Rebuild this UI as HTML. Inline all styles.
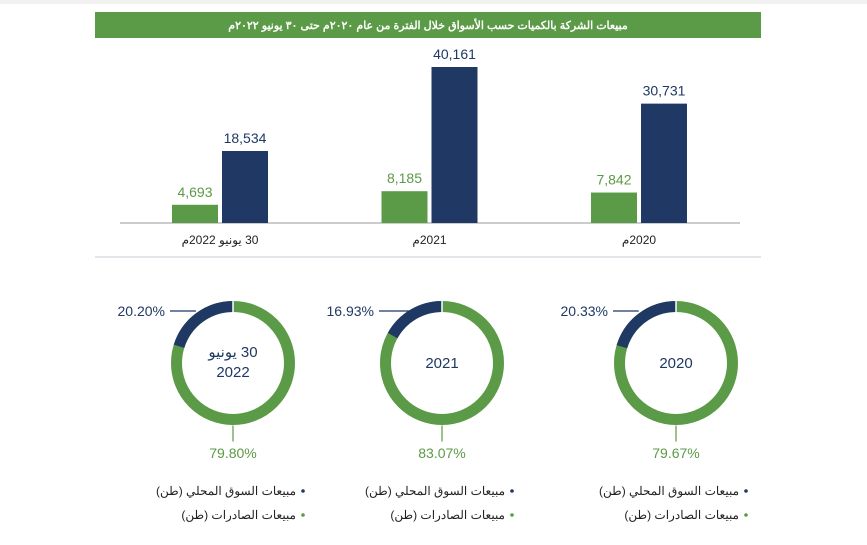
<!DOCTYPE html>
<html><head><meta charset="utf-8"><style>
body{margin:0;background:#fff;width:867px;height:540px;overflow:hidden;font-family:"Liberation Sans","Noto Sans CJK SC",sans-serif}
svg text{font-family:"Liberation Sans","Noto Sans CJK SC",sans-serif}
</style></head><body>
<svg id="c" width="867" height="540">
<rect x="0" y="0" width="867" height="4" fill="#f1f1f1"/>
<rect x="95" y="12" width="666" height="26" fill="#5b9a46"/>
<text x="428" y="29" fill="#fff" font-size="11" font-weight="bold" text-anchor="middle" direction="rtl">مبيعات الشركة بالكميات حسب الأسواق خلال الفترة من عام ٢٠٢٠م حتى ٣٠ يونيو ٢٠٢٢م</text>
<line x1="120" y1="223" x2="740" y2="223" stroke="#9a9a9a" stroke-width="1"/>
<line x1="95" y1="257" x2="761" y2="257" stroke="#d9dde3" stroke-width="1.5"/>
</svg>
<script>
const categories=["30 يونيو 2022م","2021م","2020م"];
const localSales=[4693,8185,7842];
const exportSales=[18534,40161,30731];
const localPct=["20.20%","16.93%","20.33%"];
const exportPct=["79.80%","83.07%","79.67%"];
const localShare=[20.20,16.93,20.33];
const centerLabels=[["30 يونيو","2022"],["2021"],["2020"]];
const NS="http://www.w3.org/2000/svg",svg=document.getElementById('c');
const GREEN="#5b9a46",NAVY="#1f3864";
const base=223,scale=156/40161;
const y=v=>base-v*scale;
const groupX=i=>172+i*209.5;
function mk(t,a,txt){const e=document.createElementNS(NS,t);for(const k in a)e.setAttribute(k,a[k]);if(txt!=null)e.textContent=txt;svg.appendChild(e);return e;}
function fmt(v){return v.toLocaleString('en-US');}
categories.forEach((c,i)=>{
  const gx=groupX(i);
  let e=mk('rect',{x:gx,y:y(localSales[i]),width:46,height:base-y(localSales[i]),fill:GREEN});
  
  
  e=mk('rect',{x:gx+50,y:y(exportSales[i]),width:46,height:base-y(exportSales[i]),fill:NAVY});
  
  
  e=mk('text',{x:gx+23,y:y(localSales[i])-8,fill:GREEN,'font-size':14,'text-anchor':'middle'},fmt(localSales[i]));
  
  
  e=mk('text',{x:gx+73,y:y(exportSales[i])-8,fill:NAVY,'font-size':14,'text-anchor':'middle'},fmt(exportSales[i]));
  
  
  e=mk('text',{x:gx+48,y:244,fill:'#222','font-size':12,'text-anchor':'middle',direction:'rtl'},c);
  
  
  // donut
  const cx=[233,442,676][i],cy=363,R=56.5,C=2*Math.PI*R;
  e=mk('circle',{cx,cy,r:R,fill:'none',stroke:GREEN,'stroke-width':11});
  
  
  const f=localShare[i]/100;
  e=mk('circle',{cx,cy,r:R,fill:'none',stroke:NAVY,'stroke-width':11,'stroke-dasharray':(f*C)+' '+C,transform:`rotate(${-90-f*360} ${cx} ${cy})`});
  
  
  // gap line at top
  mk('line',{x1:cx,y1:cy-R-6,x2:cx,y2:cy-R+6,stroke:'#fff','stroke-width':1.5});
  const a=(-90-f*180)*Math.PI/180;
  const px=cx+Math.cos(a)*(R+6),py=cy+Math.sin(a)*(R+6);
  mk('line',{x1:cx-63,y1:311,x2:px,y2:311,stroke:NAVY,'stroke-width':1.2});
  e=mk('text',{x:cx-68,y:316,fill:NAVY,'font-size':14,'text-anchor':'end'},localPct[i]);
  
  
  mk('line',{x1:cx,y1:cy+R+6,x2:cx,y2:cy+R+22,stroke:GREEN,'stroke-width':1.2});
  e=mk('text',{x:cx,y:458,fill:GREEN,'font-size':14,'text-anchor':'middle'},exportPct[i]);
  
  
  const cl=centerLabels[i];
  cl.forEach((t,j)=>{
    const yy=cl.length==1?368:357+j*20;
    e=mk('text',{x:cx,y:yy,fill:NAVY,'font-size':15,'text-anchor':'middle',direction:'rtl'},t);
    
    
  });
  // legend
  const lx=cx+70;
  mk('circle',{cx:lx,cy:491,r:1.8,fill:NAVY});
  e=mk('text',{x:lx-7,y:495,fill:'#222','font-size':12,'text-anchor':'start',direction:'rtl'},'مبيعات السوق المحلي (طن)');
  
  
  mk('circle',{cx:lx,cy:515,r:1.8,fill:GREEN});
  e=mk('text',{x:lx-7,y:519,fill:'#222','font-size':12,'text-anchor':'start',direction:'rtl'},'مبيعات الصادرات (طن)');
  
  
});
</script>
</body></html>
